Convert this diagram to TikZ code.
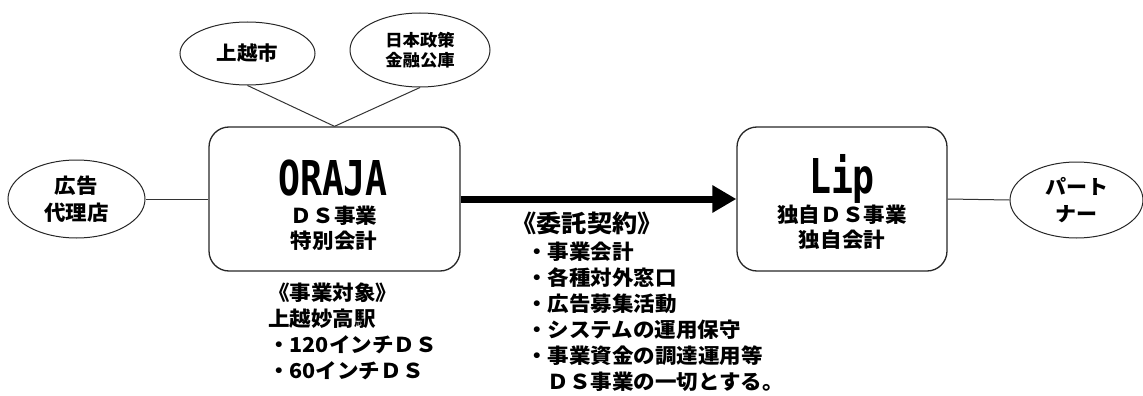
\documentclass[tikz,border=0pt]{standalone}
\usepackage{fontspec}
\setmainfont{Noto Sans CJK JP}[FakeStretch=1.05]
\newfontfamily\latfont{DejaVu Sans Mono}[FakeStretch=0.76]
\usetikzlibrary{shapes.geometric,arrows.meta}
\begin{document}
\begin{tikzpicture}[x=1pt,y=-1pt,
  oval/.style={draw=black!85,line width=1pt,ellipse,inner sep=0pt,align=center,font=\bfseries},
  bizbox/.style={draw=black!85,line width=1.3pt,rounded corners=20pt,inner sep=0pt},
  conn/.style={draw=black!80,line width=1pt},
  bigname/.style={font=\latfont\bfseries\fontsize{48}{48}\selectfont,inner sep=0pt,anchor=base},
  subtxt/.style={font=\bfseries\fontsize{20.5}{25}\selectfont,inner sep=0pt,align=center},
  listtxt/.style={font=\bfseries\fontsize{20.5}{26}\selectfont,inner sep=0pt,align=left,anchor=west}]
\useasboundingbox (0,0) rectangle (1143,396);

% ellipses
\node[oval,minimum width=135pt,minimum height=63pt,font=\bfseries\fontsize{19.5}{20}\selectfont] (joetsu) at (247.5,53.5) {上越市};
\node[oval,minimum width=140pt,minimum height=74pt,font=\bfseries\fontsize{16.5}{20}\selectfont] (jfc) at (420,50) {日本政策\\金融公庫};
\node[oval,minimum width=137pt,minimum height=78pt,font=\bfseries\fontsize{20.5}{27.5}\selectfont] (agency) at (76.5,199) {広告\\代理店};
\node[oval,minimum width=133pt,minimum height=76pt,font=\bfseries\fontsize{20}{27}\selectfont] (partner) at (1076.5,200) {パート\\ナー};

% boxes
\node[bizbox,minimum width=251pt,minimum height=144pt] (oraja) at (334.5,199) {};
\node[bizbox,minimum width=210pt,minimum height=144pt] (lip) at (842,199) {};

% box texts
\node[bigname] (orajaname) at (333,195) {ORAJA};
\node[subtxt] (orajasub) at (334,228.5) {ＤＳ事業\\特別会計};
\node[bigname] (lipname) at (842,193) {Lip};
\node[subtxt] (lipsub) at (842,227) {独自ＤＳ事業\\独自会計};

% connectors
\draw[conn] (joetsu.south) -- (oraja.north);
\draw[conn] (jfc.south) -- (oraja.north);
\draw[conn] (agency.east) -- (oraja.west);
\draw[conn] (lip.east) -- (partner.west);
\draw[line width=7pt,-{Triangle[length=24pt,width=26pt]}] (oraja.east) -- (lip.west);

% texts below
\node[listtxt] (target) at (268,331.5) {《事業対象》\\上越妙高駅\\・120インチＤＳ\\・60インチＤＳ};
\node[font=\bfseries\fontsize{24}{24}\selectfont,inner sep=0pt] (contract) at (587,223) {《委託契約》};
\node[listtxt] (tasks) at (526,316.5) {・事業会計\\・各種対外窓口\\・広告募集活動\\・システムの運用保守\\・事業資金の調達運用等\\　ＤＳ事業の一切とする。};
\end{tikzpicture}
\end{document}
